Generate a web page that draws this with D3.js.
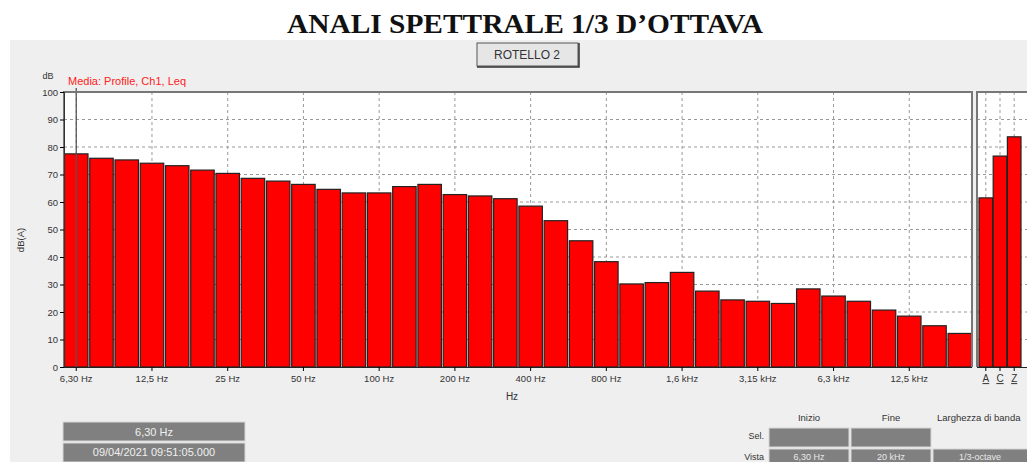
<!DOCTYPE html>
<meta charset="utf-8">
<head>
    <title>ANALI SPETTRALE 1/3 D'OTTAVA</title>
    <style>
        body { margin: 0; background: #ffffff; }
        text { font-family: "Liberation Sans", Arial, sans-serif; }
        .tick text { font-size: 9.5px; fill: #333; }
    </style>
</head>
<body>
    <script src="https://cdn.jsdelivr.net/npm/d3@7"></script>
    <script>
        // 1/3 octave bands and measured Leq
        var bands = ["6,30 Hz","8 Hz","10 Hz","12,5 Hz","16 Hz","20 Hz","25 Hz","31,5 Hz","40 Hz","50 Hz",
                     "63 Hz","80 Hz","100 Hz","125 Hz","160 Hz","200 Hz","250 Hz","315 Hz","400 Hz","500 Hz",
                     "630 Hz","800 Hz","1 kHz","1,25 kHz","1,6 kHz","2 kHz","2,5 kHz","3,15 kHz","4 kHz","5 kHz",
                     "6,3 kHz","8 kHz","10 kHz","12,5 kHz","16 kHz","20 kHz"];
        var levels = [77.5,75.9,75.3,74.1,73.2,71.6,70.4,68.6,67.6,66.4,
                      64.6,63.3,63.3,65.6,66.4,62.7,62.2,61.2,58.5,53.2,
                      45.9,38.3,30.2,30.7,34.4,27.6,24.4,23.9,23.1,28.4,
                      25.8,23.9,20.7,18.5,15.0,12.2];
        var tickLabels = ["6,30 Hz","12,5 Hz","25 Hz","50 Hz","100 Hz","200 Hz","400 Hz","800 Hz",
                          "1,6 kHz","3,15 kHz","6,3 kHz","12,5 kHz"];
        var totals = ["A","C","Z"];
        var totalLevels = [61.5, 76.7, 83.7];
        var yTicks = [0,10,20,30,40,50,60,70,80,90,100];

        var W = 1027, H = 462;
        var plot = {left: 64, right: 972, top: 92, bottom: 367};
        var side = {left: 979, right: 1021};

        var svg = d3.select("body").append("svg")
            .attr("width", W)
            .attr("height", H);

        // background panel
        svg.append("rect")
            .attr("x", 10).attr("y", 40)
            .attr("width", W - 10).attr("height", H - 40)
            .attr("fill", "#efefef");

        svg.append("text")
            .attr("x", 525).attr("y", 33)
            .attr("text-anchor", "middle")
            .attr("textLength", 476)
            .attr("lengthAdjust", "spacingAndGlyphs")
            .style("font-family", "'Liberation Serif', 'Times New Roman', serif")
            .style("font-size", "28px")
            .style("font-weight", "bold")
            .attr("fill", "#111")
            .text("ANALI SPETTRALE 1/3 D\u2019OTTAVA");

        // button
        svg.append("rect")
            .attr("x", 477).attr("y", 43).attr("width", 101).attr("height", 23)
            .attr("fill", "#e6e6e6").attr("stroke", "#555").attr("stroke-width", 1);
        svg.append("path")
            .attr("d", "M477,67 H579 V43")
            .attr("fill", "none").attr("stroke", "#333").attr("stroke-width", 1.5);
        svg.append("text")
            .attr("x", 527).attr("y", 59)
            .attr("text-anchor", "middle")
            .style("font-size", "12px")
            .attr("fill", "#333")
            .text("ROTELLO 2");

        // scales
        var x = d3.scaleBand().domain(bands).range([plot.left, plot.right]).paddingInner(0.07).paddingOuter(0.02);
        var xs = d3.scaleBand().domain(totals).range([side.left, side.right]).paddingInner(0.04);
        var y = d3.scaleLinear().domain([0, 100]).range([plot.bottom, plot.top]);

        // plot backgrounds
        svg.append("rect")
            .attr("x", plot.left).attr("y", plot.top)
            .attr("width", plot.right - plot.left).attr("height", plot.bottom - plot.top)
            .attr("fill", "#ffffff");
        svg.append("rect")
            .attr("x", 977).attr("y", plot.top)
            .attr("width", 60).attr("height", plot.bottom - plot.top)
            .attr("fill", "#ffffff");

        // grid
        var grid = svg.append("g").attr("stroke", "#999").attr("stroke-dasharray", "3,3").attr("stroke-width", 1);
        grid.selectAll(".hg").data(yTicks.slice(1, -1)).enter().append("line")
            .attr("x1", plot.left).attr("x2", plot.right)
            .attr("y1", d => y(d)).attr("y2", d => y(d));
        grid.selectAll(".hs").data(yTicks.slice(1, -1)).enter().append("line")
            .attr("x1", 977).attr("x2", W)
            .attr("y1", d => y(d)).attr("y2", d => y(d));
        grid.selectAll(".vg").data(tickLabels).enter().append("line")
            .attr("x1", d => x(d) + x.bandwidth() / 2).attr("x2", d => x(d) + x.bandwidth() / 2)
            .attr("y1", plot.top).attr("y2", plot.bottom);
        grid.selectAll(".vs").data(totals).enter().append("line")
            .attr("x1", d => xs(d) + xs.bandwidth() / 2).attr("x2", d => xs(d) + xs.bandwidth() / 2)
            .attr("y1", plot.top).attr("y2", plot.bottom);

        // bars
        svg.append("g").selectAll("rect")
            .data(levels).enter().append("rect")
            .attr("x", (d, i) => x(bands[i]))
            .attr("y", d => y(d))
            .attr("width", x.bandwidth())
            .attr("height", d => y(0) - y(d))
            .attr("fill", "#ff0000")
            .attr("stroke", "#222")
            .attr("stroke-width", 1.2);

        svg.append("g").selectAll("rect")
            .data(totalLevels).enter().append("rect")
            .attr("x", (d, i) => xs(totals[i]))
            .attr("y", d => y(d))
            .attr("width", xs.bandwidth())
            .attr("height", d => y(0) - y(d))
            .attr("fill", "#ff0000")
            .attr("stroke", "#222")
            .attr("stroke-width", 1.2);

        // cursor at first band
        var cx = x(bands[0]) + x.bandwidth() / 2;
        svg.append("line")
            .attr("x1", cx).attr("x2", cx)
            .attr("y1", plot.top - 4).attr("y2", plot.bottom)
            .attr("stroke", "#555").attr("stroke-width", 1.3);

        // frames
        svg.append("path")
            .attr("d", "M" + plot.left + "," + plot.bottom + " V" + plot.top + " H" + plot.right + " V" + plot.bottom)
            .attr("fill", "none").attr("stroke", "#777").attr("stroke-width", 2);
        svg.append("path")
            .attr("d", "M977," + plot.bottom + " V" + plot.top + " H" + (W + 5))
            .attr("fill", "none").attr("stroke", "#777").attr("stroke-width", 2);

        // axes
        var yAxis = svg.append("g")
            .attr("transform", "translate(" + plot.left + ",0)")
            .call(d3.axisLeft(y).tickValues(yTicks).tickSize(4).tickPadding(2));
        yAxis.select(".domain").attr("stroke", "#333");

        var xAxis = svg.append("g")
            .attr("transform", "translate(0," + plot.bottom + ")")
            .call(d3.axisBottom(x).tickValues(tickLabels).tickSize(4).tickPadding(4).tickSizeOuter(0));
        xAxis.select(".domain").attr("stroke", "#222").attr("d", "M" + plot.left + ",0.5H" + plot.right);

        var sAxis = svg.append("g")
            .attr("transform", "translate(0," + plot.bottom + ")")
            .call(d3.axisBottom(xs).tickSize(4).tickPadding(4).tickSizeOuter(0));
        sAxis.select(".domain").attr("stroke", "#222").attr("d", "M977,0.5H" + W);
        sAxis.selectAll(".tick text").style("text-decoration", "underline").style("font-size", "10px");

        // labels
        svg.append("text")
            .attr("x", 48).attr("y", 79)
            .attr("text-anchor", "middle")
            .style("font-size", "9px").attr("fill", "#333")
            .text("dB");
        svg.append("text")
            .attr("x", 68).attr("y", 85)
            .style("font-size", "11px").attr("fill", "#ff2020")
            .text("Media: Profile, Ch1, Leq");
        svg.append("text")
            .attr("transform", "translate(24,240) rotate(-90)")
            .attr("text-anchor", "middle")
            .style("font-size", "9.5px").attr("fill", "#333")
            .text("dB(A)");
        svg.append("text")
            .attr("x", 512).attr("y", 400)
            .attr("text-anchor", "middle")
            .style("font-size", "10px").attr("fill", "#333")
            .text("Hz");

        // cursor info boxes
        var info = ["6,30 Hz", "09/04/2021 09:51:05.000"];
        info.forEach(function(t, i) {
            svg.append("rect")
                .attr("x", 63).attr("y", 422 + i * 21).attr("width", 182).attr("height", 19)
                .attr("fill", "#808080").attr("stroke", "#d8d8d8").attr("stroke-width", 1);
            svg.append("text")
                .attr("x", 154).attr("y", 436 + i * 20)
                .attr("text-anchor", "middle")
                .style("font-size", "11px").attr("fill", "#f0f0f0")
                .text(t);
        });

        // selection / view table
        var cols = ["Inizio", "Fine", "Larghezza di banda"];
        var colX = [769, 851, 933];
        var colW = [80, 80, 100];
        cols.forEach(function(c, i) {
            svg.append("text")
                .attr("x", i < 2 ? colX[i] + colW[i] / 2 : 937).attr("y", 421)
                .attr("text-anchor", i < 2 ? "middle" : "start")
                .style("font-size", "9.5px").attr("fill", "#333")
                .text(c);
        });
        var rows = [{name: "Sel.", cells: ["", ""]}, {name: "Vista", cells: ["6,30 Hz", "20 kHz", "1/3-octave"]}];
        rows.forEach(function(r, j) {
            var ry = 428 + j * 21;
            svg.append("text")
                .attr("x", 764).attr("y", ry + 11)
                .attr("text-anchor", "end")
                .style("font-size", "9px").attr("fill", "#333")
                .text(r.name);
            r.cells.forEach(function(c, i) {
                svg.append("rect")
                    .attr("x", colX[i]).attr("y", ry).attr("width", colW[i]).attr("height", 19)
                    .attr("fill", "#808080").attr("stroke", "#d8d8d8").attr("stroke-width", 1);
                svg.append("text")
                    .attr("x", colX[i] + (i < 2 ? colW[i] / 2 : 47)).attr("y", ry + 11)
                    .attr("text-anchor", "middle")
                    .style("font-size", "9px").attr("fill", "#e8e8e8")
                    .text(c);
            });
        });
    </script>
</body>
</html>
